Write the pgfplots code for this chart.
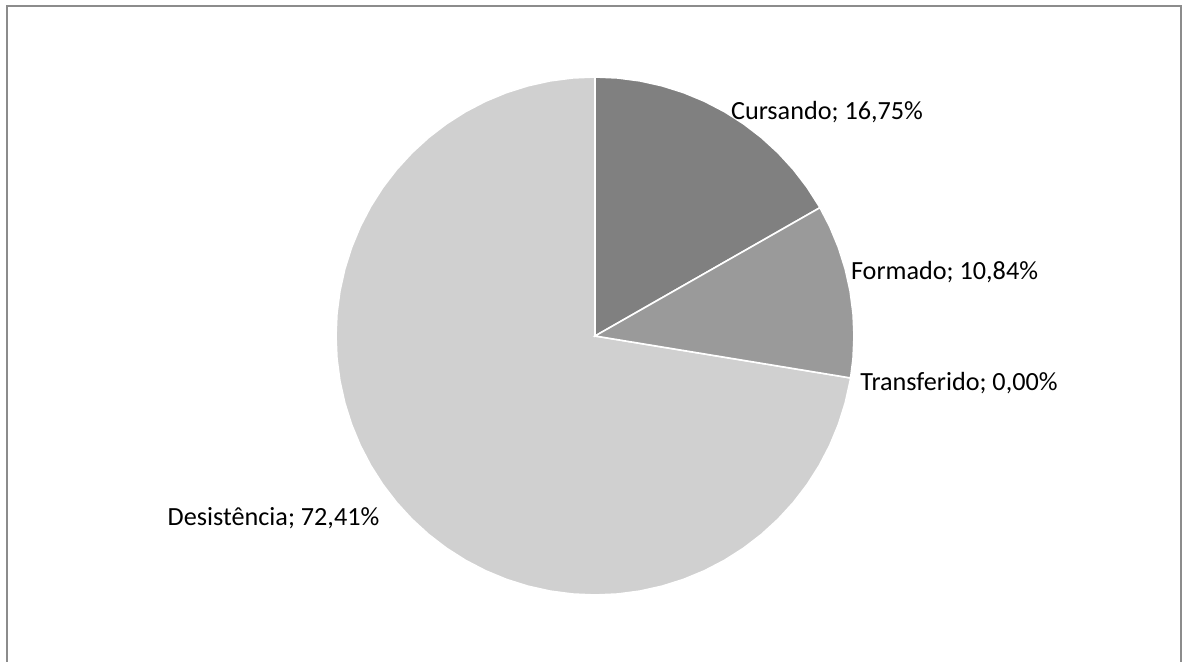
\documentclass[border=0pt]{standalone}
\usepackage{pgfplots}
\pgfplotsset{compat=1.18}
\usepackage{fontspec}
\setmainfont{Carlito}
\definecolor{cCurs}{HTML}{808080}
\definecolor{cForm}{HTML}{9A9A9A}
\definecolor{cDes}{HTML}{D0D0D0}
\definecolor{cFrame}{HTML}{8C8C8C}
\begin{document}
\begin{tikzpicture}
\begin{axis}[
  scale only axis, width=591.5pt, height=331pt,
  xmin=-595, xmax=588, ymin=-326, ymax=336,
  hide axis,
]
% Shares: Cursando 16,75%, Formado 10,84%, Transferido 0,00%, Desistencia 72,41%
% angles (deg, counterclockwise from east): 90 -> 29.70 -> -9.324 (=350.676) -> 90
\addplot[fill=cDes, draw=white, line width=0.8pt, data cs=polar] coordinates {
 (0,0) (90,259) (95,259) (100,259) (105,259) (110,259) (115,259) (120,259) (125,259)
 (130,259) (135,259) (140,259) (145,259) (150,259) (155,259) (160,259) (165,259)
 (170,259) (175,259) (180,259) (185,259) (190,259) (195,259) (200,259) (205,259)
 (210,259) (215,259) (220,259) (225,259) (230,259) (235,259) (240,259) (245,259)
 (250,259) (255,259) (260,259) (265,259) (270,259) (275,259) (280,259) (285,259)
 (290,259) (295,259) (300,259) (305,259) (310,259) (315,259) (320,259) (325,259)
 (330,259) (335,259) (340,259) (345,259) (350,259) (350.676,259)
} -- cycle;
\addplot[fill=cCurs, draw=white, line width=0.8pt, data cs=polar] coordinates {
 (0,0) (90,259) (85,259) (80,259) (75,259) (70,259) (65,259) (60,259) (55,259)
 (50,259) (45,259) (40,259) (35,259) (30,259) (29.70,259)
} -- cycle;
\addplot[fill=cForm, draw=white, line width=0.8pt, data cs=polar] coordinates {
 (0,0) (29.70,259) (25,259) (20,259) (15,259) (10,259) (5,259) (0,259) (-5,259) (-9.324,259)
} -- cycle;
% chart frame (continues below the visible area)
\addplot[draw=cFrame, line width=1pt] coordinates {(-588,-330) (-588,330) (586,330) (586,-330)};
\node[font=\fontsize{13.1}{15}\selectfont] at (axis cs:232,224) {Cursando; 16,75\%};
\node[font=\fontsize{13.1}{15}\selectfont] at (axis cs:349.5,64) {Formado; 10,84\%};
\node[font=\fontsize{13.1}{15}\selectfont] at (axis cs:364,-47) {Transferido; 0,00\%};
\node[font=\fontsize{13.1}{15}\selectfont] at (axis cs:-321.5,-182) {Desistência; 72,41\%};
\end{axis}
\pgfresetboundingbox
\path[use as bounding box] (current axis.south west) rectangle (current axis.north east);
\end{tikzpicture}
\end{document}
